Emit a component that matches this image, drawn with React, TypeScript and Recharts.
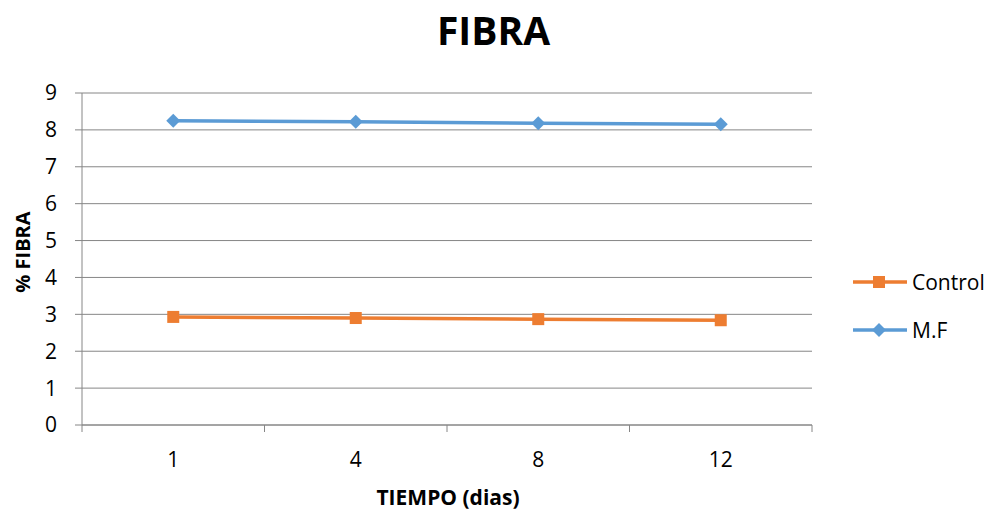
import React from 'react';
import { LineChart, Line, XAxis, YAxis, CartesianGrid, Legend } from 'recharts';

// days of storage and fibre content (%)
const dias = ['1', '4', '8', '12'];
const controlValues = [2.93, 2.9, 2.87, 2.84];
const mfValues = [8.25, 8.22, 8.18, 8.15];
const yTicks = [0, 1, 2, 3, 4, 5, 6, 7, 8, 9];

const chartData = dias.map((d, i) => ({
  dia: d,
  control: controlValues[i],
  mf: mfValues[i]
}));

const WIDTH = 994;
const HEIGHT = 514;
const PLOT_LEFT = 82;
const PLOT_RIGHT = 812;
const HALF_BAND = (PLOT_RIGHT - PLOT_LEFT) / dias.length / 2;

const AXIS = '#868686';
const ORANGE = '#ED7D31';
const BLUE = '#5B9BD5';
const FONT = '"Open Sans", sans-serif';

const squareDot = (props: any) => {
  const { cx, cy, index } = props;
  return <rect key={`sq-${index}`} x={cx - 6} y={cy - 6} width={12} height={12} fill={ORANGE} />;
};

const diamondDot = (props: any) => {
  const { cx, cy, index } = props;
  return (
    <polygon
      key={`dm-${index}`}
      points={`${cx},${cy - 7} ${cx + 7},${cy} ${cx},${cy + 7} ${cx - 7},${cy}`}
      fill={BLUE}
    />
  );
};

// category ticks sit between the bands, labels in the middle
const XTick = (props: any) => {
  const { x, y, payload, index } = props;
  const last = index === dias.length - 1;
  return (
    <g>
      <line x1={x - HALF_BAND} y1={y} x2={x - HALF_BAND} y2={y + 7} stroke={AXIS} />
      {last && <line x1={x + HALF_BAND} y1={y} x2={x + HALF_BAND} y2={y + 7} stroke={AXIS} />}
      <text x={x} y={y + 42} textAnchor="middle" fontSize={21} fill="#000" fontFamily={FONT}>
        {payload.value}
      </text>
    </g>
  );
};

const renderLegend = (props: any) => {
  const { payload = [] } = props;
  return (
    <svg width={144} height={90}>
      {payload.map((item: any, i: number) => {
        const cy = 17 + i * 48;
        const isControl = item.dataKey === 'control';
        return (
          <g key={item.value}>
            <line x1={3} y1={cy} x2={57} y2={cy} stroke={item.color} strokeWidth={3.5} />
            {isControl ? (
              <rect x={23} y={cy - 6} width={12} height={12} fill={item.color} />
            ) : (
              <polygon
                points={`29,${cy - 7} 36,${cy} 29,${cy + 7} 22,${cy}`}
                fill={item.color}
              />
            )}
            <text x={62} y={cy + 7.5} fontSize={21} fill="#000" fontFamily={FONT}>
              {item.value}
            </text>
          </g>
        );
      })}
    </svg>
  );
};

const YTitle = () => (
  <text
    x={22}
    y={252}
    transform="rotate(-90 22 252)"
    textAnchor="middle"
    dominantBaseline="central"
    fontSize={20}
    fontWeight="bold"
    fill="#000"
    fontFamily={FONT}
  >
    % FIBRA
  </text>
);

const XTitle = () => (
  <text
    x={448}
    y={505}
    textAnchor="middle"
    fontSize={21}
    fontWeight="bold"
    fill="#000"
    fontFamily={FONT}
  >
    TIEMPO (dias)
  </text>
);

export default function App() {
  return (
    <div
      style={{
        position: 'absolute',
        left: 0,
        top: 0,
        width: WIDTH,
        height: HEIGHT,
        background: '#fff',
        fontFamily: FONT
      }}
    >
      <div
        style={{
          position: 'absolute',
          left: 0,
          top: 10,
          width: 987,
          textAlign: 'center',
          fontSize: 39,
          lineHeight: '39px',
          fontWeight: 'bold',
          color: '#000'
        }}
      >
        FIBRA
      </div>
      <LineChart
        width={WIDTH}
        height={HEIGHT}
        data={chartData}
        margin={{ top: 93, right: WIDTH - PLOT_RIGHT, bottom: 29, left: 22 }}
      >
        <CartesianGrid vertical={false} stroke={AXIS} />
        <XAxis
          dataKey="dia"
          scale="band"
          height={60}
          axisLine={{ stroke: AXIS }}
          tickLine={false}
          tickSize={0}
          tickMargin={0}
          tick={<XTick />}
          interval={0}
          label={<XTitle />}
        />
        <YAxis
          width={60}
          domain={[0, 9]}
          ticks={yTicks}
          interval={0}
          axisLine={{ stroke: AXIS }}
          tickLine={{ stroke: AXIS }}
          tickSize={7}
          tickMargin={18}
          tick={{ fontSize: 21, fill: '#000', fontFamily: FONT }}
          label={<YTitle />}
        />
        <Legend
          layout="horizontal"
          verticalAlign="middle"
          align="center"
          content={renderLegend}
          wrapperStyle={{ left: 850, top: 265, width: 144, height: 90 }}
        />
        <Line
          name="Control"
          dataKey="control"
          stroke={ORANGE}
          strokeWidth={3.5}
          dot={squareDot}
          activeDot={false}
          isAnimationActive={false}
        />
        <Line
          name="M.F"
          dataKey="mf"
          stroke={BLUE}
          strokeWidth={3.5}
          dot={diamondDot}
          activeDot={false}
          isAnimationActive={false}
        />
      </LineChart>
    </div>
  );
}
